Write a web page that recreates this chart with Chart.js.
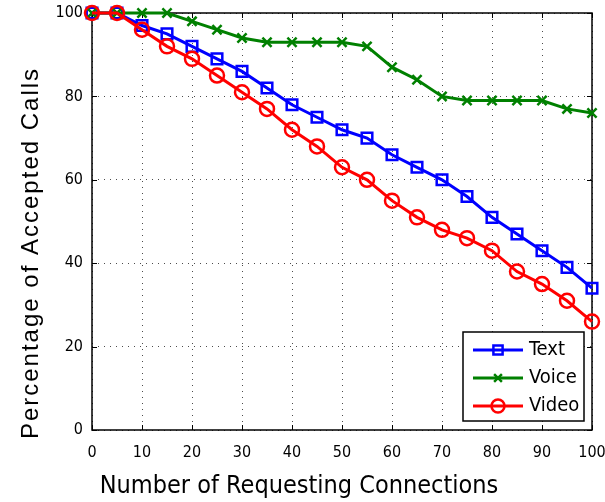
<!DOCTYPE html>
<html>
<head>
<meta charset="utf-8">
<script src="https://cdn.jsdelivr.net/npm/chart.js@4/dist/chart.umd.min.js"></script>
<style>
  html, body { margin: 0; padding: 0; background: #fff; }
  #wrap { width: 605px; height: 502px; }
</style>
</head>
<body>
<div id="wrap"><canvas id="c" width="605" height="502"></canvas></div>
<script>
// ---- data ----
const connections = [0, 5, 10, 15, 20, 25, 30, 35, 40, 45, 50, 55, 60, 65, 70, 75, 80, 85, 90, 95, 100];
const textValues  = [100, 100, 97, 95, 92, 89, 86, 82, 78, 75, 72, 70, 66, 63, 60, 56, 51, 47, 43, 39, 34];
const voiceValues = [100, 100, 100, 100, 98, 96, 94, 93, 93, 93, 93, 92, 87, 84, 80, 79, 79, 79, 79, 77, 76];
const videoValues = [100, 100, 96, 92, 89, 85, 81, 77, 72, 68, 63, 60, 55, 51, 48, 46, 43, 38, 35, 31, 26];
const seriesNames = ['Text', 'Voice', 'Video'];
const xTickValues = [0, 10, 20, 30, 40, 50, 60, 70, 80, 90, 100];
const yTickValues = [0, 20, 40, 60, 80, 100];
const xTitle = 'Number of Requesting Connections';
const yTitle = 'Percentage of Accepted Calls';

const toPoints = vals => connections.map((x, i) => ({ x: x, y: vals[i] }));

const NARROW = '"Liberation Sans Narrow", "DejaVu Sans Condensed", "Liberation Sans", sans-serif';

// box, inward ticks, axis titles, and in-plot legend
const framePlugin = {
  id: 'frame',
  beforeDatasetsDraw(chart) {
    const { ctx, chartArea: a, scales } = chart;
    ctx.save();
    ctx.strokeStyle = '#000';
    ctx.lineWidth = 1.5;
    ctx.strokeRect(a.left, a.top, a.right - a.left, a.bottom - a.top);
    ctx.lineWidth = 1;
    const t = 5;
    xTickValues.forEach(v => {
      const px = Math.round(scales.x.getPixelForValue(v)) + 0.5;
      ctx.beginPath();
      ctx.moveTo(px, a.bottom); ctx.lineTo(px, a.bottom - t);
      ctx.moveTo(px, a.top); ctx.lineTo(px, a.top + t);
      ctx.stroke();
    });
    yTickValues.forEach(v => {
      const py = Math.round(scales.y.getPixelForValue(v)) + 0.5;
      ctx.beginPath();
      ctx.moveTo(a.left, py); ctx.lineTo(a.left + t, py);
      ctx.moveTo(a.right, py); ctx.lineTo(a.right - t, py);
      ctx.stroke();
    });
    ctx.restore();
  },
  afterDatasetsDraw(chart) {
    const { ctx } = chart;
    ctx.save();
    // axis titles
    ctx.fillStyle = '#000';
    ctx.font = '25px ' + NARROW;
    ctx.textAlign = 'center';
    ctx.textBaseline = 'middle';
    ctx.fillText(chart.options.scales.x.title.text, 299, 486);
    ctx.save();
    ctx.translate(31, 253);
    ctx.rotate(-Math.PI / 2);
    ctx.font = '24px "Liberation Sans", Arial, sans-serif';
    try { ctx.letterSpacing = '2px'; } catch (e) {}
    ctx.fillText(chart.options.scales.y.title.text, 0, 0);
    ctx.restore();

    // legend
    const L = { x: 463, y: 332, w: 121, h: 89 };
    ctx.fillStyle = '#fff';
    ctx.fillRect(L.x, L.y, L.w, L.h);
    ctx.strokeStyle = '#000';
    ctx.lineWidth = 1.5;
    ctx.strokeRect(L.x, L.y, L.w, L.h);
    const rows = [350, 378, 406];
    chart.data.datasets.forEach((ds, i) => {
      const y = rows[i];
      ctx.strokeStyle = ds.borderColor;
      ctx.lineWidth = ds.borderWidth;
      ctx.beginPath();
      ctx.moveTo(473, y); ctx.lineTo(523, y);
      ctx.stroke();
      ctx.fillStyle = 'rgba(0,0,0,0)';
      ctx.lineWidth = ds.pointBorderWidth;
      Chart.helpers.drawPoint(ctx, {
        pointStyle: ds.pointStyle,
        radius: ds.legendRadius,
        borderWidth: ds.pointBorderWidth
      }, 498, y);
      ctx.fillStyle = '#000';
      ctx.font = '20px ' + NARROW;
      ctx.textAlign = 'left';
      ctx.textBaseline = 'middle';
      ctx.fillText(ds.label, 529, y);
    });
    ctx.restore();
  }
};

const mk = (label, vals, color, style, radius, legendRadius, order) => ({
  label: label,
  data: toPoints(vals),
  borderColor: color,
  backgroundColor: 'rgba(0,0,0,0)',
  borderWidth: 3,
  pointStyle: style,
  pointRadius: radius,
  pointHoverRadius: radius,
  pointBorderWidth: 2.5,
  pointBorderColor: color,
  pointBackgroundColor: 'rgba(0,0,0,0)',
  legendRadius: legendRadius,
  tension: 0,
  fill: false,
  clip: false,
  order: order
});

new Chart(document.getElementById('c'), {
  type: 'line',
  data: {
    datasets: [
      mk(seriesNames[0], textValues, '#0000ff', 'rect', 7.5, 6.5, 2),
      mk(seriesNames[1], voiceValues, '#008000', 'crossRot', 6.5, 5.5, 1),
      mk(seriesNames[2], videoValues, '#ff0000', 'circle', 7, 6.5, 0)
    ]
  },
  options: {
    responsive: false,
    animation: false,
    devicePixelRatio: 1,
    layout: { padding: { left: 0, right: 13, top: 13, bottom: 0 } },
    plugins: {
      legend: { display: false },
      tooltip: { enabled: false }
    },
    scales: {
      x: {
        type: 'linear',
        min: 0, max: 100,
        afterFit: s => { s.height = 72; s.paddingLeft = 0; s.paddingRight = 0; },
        afterBuildTicks: s => { s.ticks = xTickValues.map(v => ({ value: v })); },
        title: { display: false, text: xTitle },
        grid: { color: 'rgba(0,0,0,0.7)', lineWidth: 1, drawTicks: false },
        border: { display: false, dash: [1, 5] },
        ticks: { color: '#000', padding: 13, maxRotation: 0, font: { family: NARROW, size: 16 } }
      },
      y: {
        type: 'linear',
        min: 0, max: 100,
        afterFit: s => { s.width = 92; s.paddingTop = 0; s.paddingBottom = 0; },
        afterBuildTicks: s => { s.ticks = yTickValues.map(v => ({ value: v })); },
        title: { display: false, text: yTitle },
        grid: { color: 'rgba(0,0,0,0.7)', lineWidth: 1, drawTicks: false },
        border: { display: false, dash: [1, 5] },
        ticks: { color: '#000', padding: 9, font: { family: NARROW, size: 16 } }
      }
    }
  },
  plugins: [framePlugin]
});
</script>
</body>
</html>
